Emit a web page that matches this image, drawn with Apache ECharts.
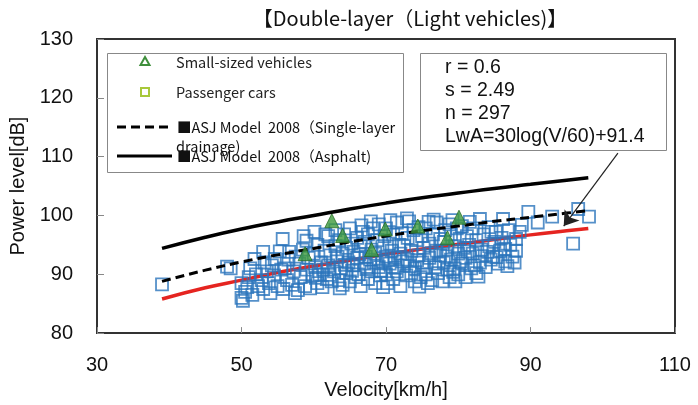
<!DOCTYPE html>
<html>
<head>
<meta charset="utf-8">
<script src="https://cdn.jsdelivr.net/npm/echarts@6/dist/echarts.min.js"></script>
<style>
  html, body { margin: 0; padding: 0; background: #fff; }
  #chart { width: 698px; height: 405px; }
</style>
</head>
<body>
<div id="chart"></div>
<script>
// model curves at these velocities
const modelVelocity = [39, 45, 50, 55, 60, 65, 70, 75, 80, 85, 90, 95, 98]
const asphaltLevel  = [94.4, 96.3, 97.7, 98.9, 100.0, 101.1, 102.1, 103.0, 103.8, 104.6, 105.3, 106.0, 106.4]
const drainageLevel = [88.8, 90.7, 92.1, 93.3, 94.4, 95.5, 96.5, 97.4, 98.2, 99.0, 99.7, 100.4, 100.8]
const regressionLevel = [85.8, 87.7, 89.0, 90.3, 91.4, 92.4, 93.4, 94.3, 95.1, 95.9, 96.7, 97.4, 97.8]

// small-sized vehicles [velocity, level]
const smallVehicles = [
  [62.5, 99.1], [64.0, 96.6], [69.9, 97.7], [74.4, 98.2], [80.1, 99.7],
  [58.8, 93.5], [68.0, 94.2], [78.5, 96.2]
]

// passenger cars [velocity, level]
const passengerCars = [
  [39.0, 88.3], [48.0, 91.3], [48.5, 91.0],
  [50.0, 86.0], [50.2, 85.5], [50.5, 87.0], [50.0, 88.5], [51.0, 89.5], [50.8, 87.8], [51.5, 86.5],
  [52.0, 90.0], [52.3, 88.0], [51.2, 91.0], [52.8, 89.0], [53.0, 87.5], [53.5, 90.5], [53.2, 92.0],
  [53.8, 88.5], [54.0, 86.8], [54.5, 89.8], [54.2, 91.5], [53.0, 93.8], [55.3, 93.9], [55.0, 88.0],
  [55.5, 90.8], [55.8, 87.5],
  [55.7, 96.0], [56.0, 91.0], [56.3, 89.0], [56.5, 92.5], [57.0, 88.2], [57.2, 90.5], [57.5, 93.0],
  [57.8, 87.3], [58.0, 91.8], [58.2, 89.5], [58.5, 94.2], [58.8, 88.0], [59.0, 95.7], [59.0, 90.8],
  [59.3, 92.8], [59.5, 87.6], [59.8, 89.8], [60.0, 93.5], [60.2, 91.2], [60.5, 88.5], [60.5, 95.0],
  [60.8, 90.0], [61.0, 92.0], [61.2, 87.8], [61.5, 94.0], [61.8, 89.2], [62.0, 96.5], [62.0, 91.5],
  [62.3, 93.2], [62.5, 88.8],
  [62.8, 90.5], [63.0, 94.8], [63.0, 97.5], [63.2, 92.2], [63.5, 89.0], [63.5, 95.8], [63.8, 91.0],
  [64.0, 93.5], [64.0, 88.2], [64.2, 96.8], [64.5, 90.2], [64.5, 94.5], [64.8, 92.0], [65.0, 88.8],
  [65.0, 97.8], [65.2, 95.2], [65.5, 91.5], [65.5, 93.8], [65.8, 89.5], [66.0, 96.2], [66.0, 92.8],
  [66.2, 90.0], [66.5, 94.8], [66.5, 88.0], [66.8, 97.2], [67.0, 91.8], [67.0, 95.5], [67.2, 93.0],
  [67.5, 89.2], [67.5, 96.8], [67.8, 92.5], [68.0, 94.2], [68.0, 90.5], [68.2, 97.8], [68.5, 88.5],
  [68.5, 93.5], [68.8, 95.8], [69.0, 91.2], [69.0, 98.5], [69.2, 89.8], [69.5, 94.8], [69.5, 92.2],
  [69.8, 96.5], [70.0, 90.0], [70.0, 93.0], [70.0, 97.8], [70.2, 88.5], [70.5, 95.2], [70.5, 91.8],
  [70.8, 94.0], [71.0, 89.2], [71.0, 96.8], [71.2, 92.8], [71.5, 98.8], [71.5, 90.5], [71.8, 95.0],
  [72.0, 93.5], [72.0, 88.0], [72.2, 97.0], [72.5, 91.5], [72.5, 94.8], [72.8, 89.8], [73.0, 96.2],
  [73.0, 92.5], [73.2, 99.0], [73.5, 90.2], [73.5, 94.0], [73.8, 97.5], [74.0, 91.0], [74.0, 88.8],
  [74.2, 95.8], [74.5, 93.2], [74.5, 98.0], [74.8, 89.5], [75.0, 96.5],
  [75.0, 92.0], [75.2, 94.5], [75.5, 90.0], [75.5, 97.8], [75.8, 88.5], [76.0, 95.2], [76.0, 92.8],
  [76.4, 89.0], [76.5, 96.8], [76.8, 91.2], [77.0, 94.0], [77.0, 98.8], [77.2, 90.2], [77.5, 93.2],
  [77.5, 96.0], [77.8, 88.8], [78.0, 92.0], [78.0, 95.5], [78.2, 97.5], [78.5, 90.8], [78.5, 94.2],
  [78.8, 89.5], [79.0, 96.8], [79.0, 92.5], [79.2, 99.2], [79.5, 91.0], [79.5, 94.8], [79.8, 97.8],
  [80.0, 90.0], [80.0, 93.5], [80.2, 96.0], [80.5, 91.8], [80.5, 98.2], [80.8, 94.5], [81.0, 89.5],
  [81.0, 92.8], [81.2, 96.5], [81.5, 95.0], [81.8, 91.0], [82.0, 97.8], [82.0, 93.5], [82.5, 90.2],
  [82.5, 95.8], [83.0, 99.4], [83.0, 92.0], [83.2, 94.2], [83.5, 96.8], [83.8, 91.2], [84.0, 93.8],
  [84.2, 98.0], [84.5, 92.5], [84.8, 93.0], [85.0, 95.5], [85.2, 97.2], [85.5, 91.8], [85.8, 94.0],
  [86.0, 96.2], [86.2, 99.4], [86.5, 94.3], [86.5, 92.2], [87.0, 97.5], [87.2, 95.0], [87.5, 93.0],
  [88.0, 96.0], [88.5, 97.2], [88.8, 98.4], [88.0, 94.0],
  [89.7, 100.6], [91.0, 98.8], [93.0, 99.8], [95.9, 95.2], [96.6, 101.1], [98.1, 99.8],
  [60.3, 89.4], [61.3, 90.8], [62.2, 89.9], [63.3, 93.0], [64.3, 91.6], [65.3, 90.6], [66.3, 93.4],
  [67.3, 90.9], [68.3, 92.0], [69.3, 90.6], [70.3, 92.4], [71.3, 91.1], [72.3, 92.2], [73.3, 91.4],
  [74.3, 92.4], [75.3, 91.2], [76.3, 93.6], [77.3, 91.8], [78.3, 93.1], [79.3, 90.4], [80.3, 92.2],
  [81.3, 93.9], [82.3, 91.5], [83.3, 93.1], [84.3, 94.8], [85.3, 92.9], [86.3, 95.2], [61.6, 96.8],
  [66.6, 98.3], [70.6, 99.2], [76.6, 99.3], [78.8, 98.5], [84.6, 97.2], [56.6, 93.8], [58.6, 96.5],
  [54.6, 92.6], [51.8, 92.6], [57.4, 86.8], [63.6, 87.6], [69.6, 87.8], [74.6, 87.9], [79.6, 88.8],
  [82.8, 89.6], [86.8, 91.4], [87.8, 92.0], [60.1, 97.2], [67.9, 99.0], [72.9, 99.5], [75.9, 98.9],
  [81.6, 98.9]
]

const statLines = ['r = 0.6', 's = 2.49', 'n = 297', 'LwA=30log(V/60)+91.4']

const toPairs = (xs, ys) => xs.map((x, i) => [x, ys[i]])

const chart = echarts.init(document.getElementById('chart'))

const legendFont = '"Noto Sans CJK JP", "Noto Sans", sans-serif'
const numFont = '"Liberation Sans", Arial, sans-serif'

chart.setOption({
  animation: false,
  title: {
    text: '【Double-layer（Light vehicles)】',
    left: 405,
    top: 3,
    textAlign: 'center',
    textStyle: { fontFamily: legendFont, fontSize: 20, fontWeight: 'normal', color: '#111' }
  },
  grid: {
    left: 97, right: 23, top: 39, bottom: 70,
    show: true, borderColor: '#333', borderWidth: 2, backgroundColor: '#fff'
  },
  xAxis: {
    type: 'value', min: 30, max: 110, interval: 20,
    name: 'Velocity[km/h]', nameLocation: 'middle', nameGap: 44,
    nameTextStyle: { fontFamily: numFont, fontSize: 20, color: '#111' },
    axisLine: { show: false },
    axisTick: { inside: true, length: 6, lineStyle: { color: '#888' } },
    axisLabel: { fontFamily: numFont, fontSize: 20, color: '#111', margin: 22 },
    splitLine: { show: false }
  },
  yAxis: {
    type: 'value', min: 80, max: 130, interval: 10,
    name: 'Power level[dB]', nameLocation: 'middle', nameGap: 62,
    nameTextStyle: { fontFamily: numFont, fontSize: 20, color: '#111' },
    axisLine: { show: false },
    axisTick: { inside: true, length: 7, lineStyle: { color: '#888' } },
    axisLabel: { fontFamily: numFont, fontSize: 20, color: '#111', margin: 24 },
    splitLine: { show: false }
  },
  series: [
    {
      type: 'line', data: toPairs(modelVelocity, regressionLevel), smooth: true,
      symbol: 'none', lineStyle: { color: '#e52420', width: 3.5 }, z: 2
    },
    {
      type: 'scatter', data: passengerCars, symbol: 'rect', symbolSize: 12,
      itemStyle: { color: 'rgba(255,255,255,0)', borderColor: '#2a74bb', borderWidth: 1.8 }, z: 3
    },
    {
      type: 'line', data: toPairs(modelVelocity, drainageLevel), smooth: true,
      symbol: 'none', lineStyle: { color: '#000', width: 3, type: [9, 5] }, z: 4
    },
    {
      type: 'scatter', data: smallVehicles, symbol: 'triangle', symbolSize: 14,
      itemStyle: { color: '#3f9a3c', borderColor: '#2b6e2a', borderWidth: 1 }, z: 5
    },
    {
      type: 'line', data: toPairs(modelVelocity, asphaltLevel), smooth: true,
      symbol: 'none', lineStyle: { color: '#000', width: 3.5 }, z: 6,
      markLine: {
        silent: true, symbol: ['none', 'arrow'], symbolSize: 14,
        label: { show: false },
        lineStyle: { color: '#222', width: 1.2, type: 'solid' },
        data: [[{ coord: [102.1, 110.6] }, { coord: [94.6, 98.2] }]]
      }
    }
  ],
  graphic: [
    // legend box
    { type: 'rect', shape: { x: 107.5, y: 53.5, width: 296, height: 119 },
      style: { fill: '#fff', stroke: '#888', lineWidth: 1 }, z: 10 },
    { type: 'polygon', shape: { points: [[145, 57], [149.5, 65], [140.5, 65]] },
      style: { fill: '#fff', stroke: '#3f8f3c', lineWidth: 2 }, z: 11 },
    { type: 'text', x: 176, y: 62, style: { text: 'Small-sized vehicles', fontFamily: legendFont, fontSize: 14.5, fill: '#222', verticalAlign: 'middle' }, z: 11 },
    { type: 'rect', shape: { x: 141, y: 88, width: 8, height: 8 },
      style: { fill: '#fff', stroke: '#a8c83a', lineWidth: 2 }, z: 11 },
    { type: 'text', x: 176, y: 92, style: { text: 'Passenger cars', fontFamily: legendFont, fontSize: 14.5, fill: '#222', verticalAlign: 'middle' }, z: 11 },
    { type: 'line', shape: { x1: 117, y1: 127, x2: 172, y2: 127 },
      style: { stroke: '#000', lineWidth: 3, lineDash: [9, 5] }, z: 11 },
    { type: 'text', x: 177, y: 127, style: { text: '■ASJ Model  2008（Single-layer', fontFamily: legendFont, fontSize: 14.5, fill: '#111', verticalAlign: 'middle' }, z: 11 },
    { type: 'text', x: 176, y: 146, style: { text: 'drainage)', fontFamily: legendFont, fontSize: 14.5, fill: '#111', verticalAlign: 'middle' }, z: 11 },
    { type: 'line', shape: { x1: 117, y1: 156, x2: 172, y2: 156 },
      style: { stroke: '#000', lineWidth: 3 }, z: 11 },
    { type: 'text', x: 177, y: 156, style: { text: '■ASJ Model  2008（Asphalt)', fontFamily: legendFont, fontSize: 14.5, fill: '#111', verticalAlign: 'middle' }, z: 11 },
    // statistics box
    { type: 'rect', shape: { x: 420.5, y: 53.5, width: 246, height: 97 },
      style: { fill: '#fff', stroke: '#888', lineWidth: 1 }, z: 10 },
    ...statLines.map((t, i) => ({
      type: 'text', x: 445, y: 68 + i * 23,
      style: { text: t, fontFamily: numFont, fontSize: 19.5, fill: '#111', verticalAlign: 'middle' }, z: 11
    }))
  ]
})
</script>
</body>
</html>
